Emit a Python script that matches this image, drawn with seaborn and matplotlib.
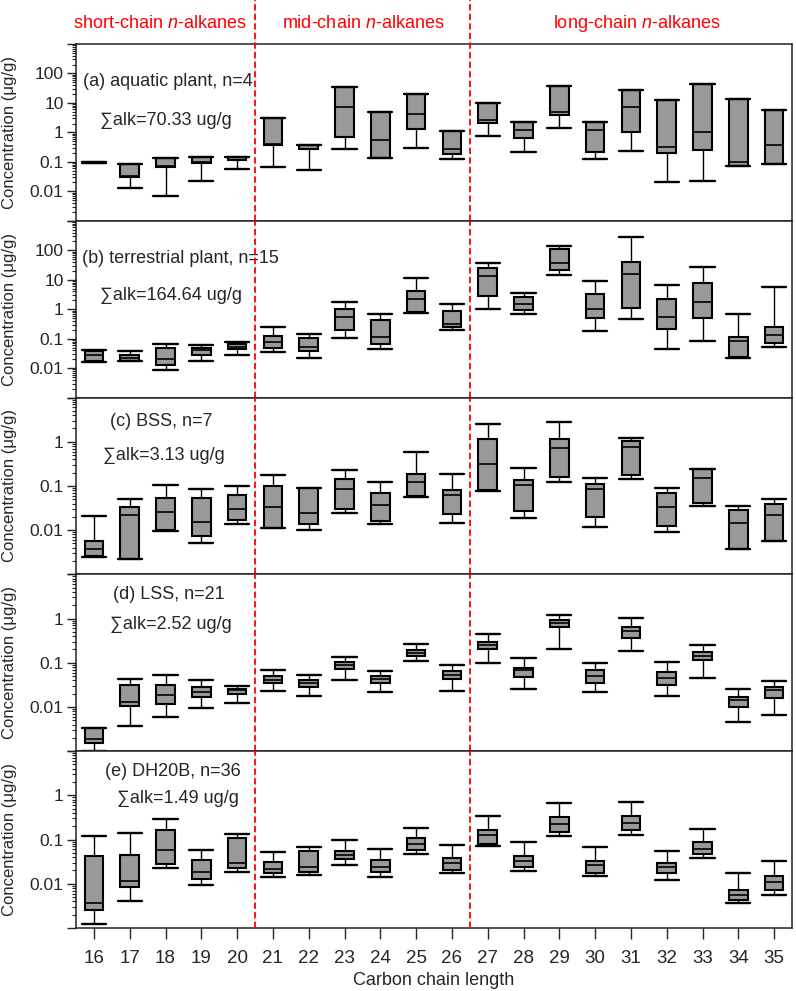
import numpy as np
import pandas as pd
import seaborn as sns
import matplotlib.pyplot as plt
from matplotlib.ticker import LogLocator, FuncFormatter

carbons = [str(c) for c in range(16, 36)]

# (a) aquatic plant
a_lo  = [0.092, 0.0129, 0.0072, 0.0225, 0.059, 0.066, 0.055, 0.27, 0.14, 0.30, 0.126, 0.73, 0.22, 1.37, 0.126, 0.237, 0.020, 0.022, 0.071, 0.083]
a_q1  = [0.094, 0.031, 0.069, 0.095, 0.117, 0.38, 0.27, 0.71, 0.14, 1.3, 0.187, 2.14, 0.63, 4.0, 0.215, 1.0, 0.20, 0.257, 0.071, 0.083]
a_med = [0.096, 0.032, 0.071, 0.098, 0.12, 0.39, 0.28, 7.3, 0.56, 4.3, 0.277, 2.57, 1.17, 5.1, 1.17, 7.5, 0.33, 1.0, 0.102, 0.37]
a_q3  = [0.098, 0.087, 0.138, 0.148, 0.145, 3.1, 0.38, 36, 4.8, 20.3, 1.14, 10.3, 2.2, 37, 2.2, 27, 12.9, 43, 13.3, 5.6]
a_hi  = [0.100, 0.087, 0.138, 0.148, 0.145, 3.1, 0.38, 36, 4.8, 20.3, 1.14, 10.3, 2.2, 37, 2.2, 27, 12.9, 43, 13.3, 5.6]

# (b) terrestrial plant
b_lo  = [0.016, 0.017, 0.0085, 0.018, 0.0285, 0.034, 0.022, 0.105, 0.046, 0.75, 0.19, 1.02, 0.67, 14, 0.18, 0.47, 0.045, 0.083, 0.0225, 0.053]
b_q1  = [0.018, 0.018, 0.0126, 0.028, 0.045, 0.048, 0.037, 0.20, 0.066, 0.79, 0.245, 2.7, 0.93, 22, 0.52, 1.07, 0.21, 0.52, 0.023, 0.069]
b_med = [0.027, 0.022, 0.020, 0.040, 0.052, 0.078, 0.051, 0.56, 0.117, 2.3, 0.316, 13.7, 1.48, 36, 0.98, 15.6, 0.55, 1.82, 0.086, 0.13]
b_q3  = [0.038, 0.028, 0.047, 0.049, 0.066, 0.123, 0.105, 1.05, 0.42, 4.2, 0.85, 25.5, 2.57, 111, 3.2, 39, 2.2, 7.5, 0.114, 0.245]
b_hi  = [0.042, 0.037, 0.064, 0.060, 0.075, 0.245, 0.14, 1.74, 0.71, 11.5, 1.45, 38, 3.6, 144, 8.8, 277, 6.4, 26, 0.71, 5.6]

# (c) BSS
c_lo  = [0.0025, 0.0022, 0.0098, 0.005, 0.0139, 0.0115, 0.0102, 0.0245, 0.0137, 0.056, 0.0147, 0.076, 0.019, 0.123, 0.0117, 0.142, 0.0093, 0.0357, 0.0037, 0.0057]
c_q1  = [0.0026, 0.0022, 0.0102, 0.0073, 0.017, 0.0115, 0.0135, 0.0305, 0.0163, 0.058, 0.0235, 0.083, 0.0274, 0.16, 0.0198, 0.178, 0.0125, 0.041, 0.0038, 0.0057]
c_med = [0.0038, 0.022, 0.026, 0.0155, 0.030, 0.034, 0.025, 0.087, 0.038, 0.123, 0.063, 0.316, 0.107, 0.72, 0.087, 0.76, 0.0328, 0.155, 0.0145, 0.0215]
c_q3  = [0.0058, 0.033, 0.054, 0.053, 0.063, 0.102, 0.089, 0.142, 0.069, 0.19, 0.080, 1.17, 0.139, 1.13, 0.111, 1.05, 0.068, 0.24, 0.029, 0.0396]
c_hi  = [0.0204, 0.050, 0.105, 0.084, 0.098, 0.18, 0.089, 0.227, 0.123, 0.59, 0.187, 2.48, 0.252, 2.8, 0.149, 1.19, 0.090, 0.24, 0.036, 0.050]

# (d) LSS
d_lo  = [0.001, 0.0038, 0.0059, 0.0093, 0.0123, 0.0225, 0.018, 0.040, 0.0216, 0.107, 0.0226, 0.097, 0.026, 0.20, 0.0215, 0.183, 0.018, 0.046, 0.0046, 0.0067]
d_q1  = [0.0015, 0.0107, 0.0117, 0.017, 0.020, 0.034, 0.029, 0.072, 0.034, 0.144, 0.043, 0.203, 0.047, 0.64, 0.035, 0.36, 0.031, 0.117, 0.0098, 0.016]
d_med = [0.0019, 0.0129, 0.0186, 0.0215, 0.024, 0.041, 0.035, 0.087, 0.042, 0.168, 0.053, 0.25, 0.067, 0.81, 0.050, 0.53, 0.045, 0.146, 0.0142, 0.024]
d_q3  = [0.0033, 0.031, 0.032, 0.029, 0.026, 0.050, 0.041, 0.103, 0.051, 0.196, 0.065, 0.30, 0.078, 0.95, 0.069, 0.63, 0.063, 0.177, 0.017, 0.029]
d_hi  = [0.0034, 0.042, 0.053, 0.041, 0.030, 0.069, 0.052, 0.136, 0.066, 0.26, 0.087, 0.45, 0.125, 1.23, 0.097, 1.02, 0.102, 0.25, 0.026, 0.038]

# (e) DH20B
e_lo  = [0.0012, 0.0041, 0.0227, 0.0093, 0.0184, 0.0145, 0.0157, 0.027, 0.0139, 0.048, 0.0178, 0.073, 0.0199, 0.123, 0.0149, 0.130, 0.012, 0.038, 0.0037, 0.0057]
e_q1  = [0.0026, 0.0083, 0.028, 0.013, 0.0226, 0.0178, 0.0184, 0.0357, 0.0184, 0.058, 0.021, 0.081, 0.024, 0.152, 0.0178, 0.166, 0.0178, 0.047, 0.0044, 0.0074]
e_med = [0.0037, 0.0115, 0.057, 0.018, 0.030, 0.022, 0.0236, 0.0457, 0.0245, 0.080, 0.0295, 0.125, 0.0333, 0.22, 0.026, 0.24, 0.0236, 0.062, 0.0056, 0.011]
e_q3  = [0.042, 0.045, 0.163, 0.034, 0.107, 0.0316, 0.056, 0.056, 0.034, 0.109, 0.039, 0.168, 0.0426, 0.316, 0.033, 0.333, 0.0295, 0.087, 0.0073, 0.0152]
e_hi  = [0.121, 0.144, 0.29, 0.059, 0.134, 0.0525, 0.068, 0.098, 0.0615, 0.184, 0.077, 0.34, 0.087, 0.66, 0.067, 0.72, 0.055, 0.175, 0.0172, 0.0327]

panels = [
    ("(a) aquatic plant, n=4", "\u2211alk=70.33 ug/g", (a_lo, a_q1, a_med, a_q3, a_hi)),
    ("(b) terrestrial plant, n=15", "\u2211alk=164.64 ug/g", (b_lo, b_q1, b_med, b_q3, b_hi)),
    ("(c) BSS, n=7", "\u2211alk=3.13 ug/g", (c_lo, c_q1, c_med, c_q3, c_hi)),
    ("(d) LSS, n=21", "\u2211alk=2.52 ug/g", (d_lo, d_q1, d_med, d_q3, d_hi)),
    ("(e) DH20B, n=36", "\u2211alk=1.49 ug/g", (e_lo, e_q1, e_med, e_q3, e_hi)),
]
ylims = [(1e-3, 1e3), (1e-3, 1e3), (1e-3, 10), (1e-3, 10), (1e-3, 10)]
shown = [[100, 10, 1, 0.1, 0.01]] * 2 + [[1, 0.1, 0.01]] * 3
title_pos = [(0.01, 0.786, 0.0335, 0.568), (0.009, 0.787, 0.0335, 0.58),
             (0.048, 0.865, 0.037, 0.672), (0.052, 0.885, 0.048, 0.714),
             (0.04, 0.886, 0.057, 0.73)]

sns.set_theme(style="ticks")
plt.rcParams['font.family'] = ['Liberation Sans', 'DejaVu Sans']
plt.rcParams['mathtext.fontset'] = 'custom'
plt.rcParams['mathtext.rm'] = 'Liberation Sans'
plt.rcParams['mathtext.it'] = 'Liberation Sans:italic'

fig, axes = plt.subplots(5, 1, figsize=(7.96, 9.91), dpi=100, sharex=True)
fig.subplots_adjust(left=0.0955, right=0.995, top=0.9556, bottom=0.0636, hspace=0)


def fmt(v):
    return "%g" % v


for i, (ax, (lab, tot, stats)) in enumerate(zip(axes, panels)):
    rows = []
    for j, c in enumerate(carbons):
        for s in stats:
            rows.append((c, s[j]))
    df = pd.DataFrame(rows, columns=["carbon", "conc"])
    sns.boxplot(data=df, x="carbon", y="conc", order=carbons, ax=ax,
                whis=(0, 100), width=0.52, color="#999999", saturation=1,
                linecolor="black", linewidth=1.5, fliersize=0, log_scale=True,
                capwidths=0.68,
                whiskerprops=dict(linewidth=1.0),
                capprops=dict(linewidth=1.7),
                medianprops=dict(linewidth=1.2))
    ax.set_ylim(*ylims[i])
    ax.yaxis.set_major_locator(LogLocator(base=10, numticks=20))
    ax.yaxis.set_minor_locator(LogLocator(base=10, subs=np.arange(2, 10) * 1.0, numticks=100))
    keep = shown[i]
    ax.yaxis.set_major_formatter(FuncFormatter(
        lambda v, p, keep=keep: fmt(v) if any(abs(v / k - 1) < 1e-6 for k in keep) else ""))
    ax.yaxis.set_minor_formatter(FuncFormatter(lambda v, p: ""))
    ax.tick_params(axis='y', which='major', direction='out', length=6.5, width=1.0,
                   labelsize=12.5, pad=2.5, color='#222222')
    ax.tick_params(axis='y', which='minor', direction='out', length=3, width=0.8, color='#222222')
    ax.set_ylabel("Concentration (\u03bcg/g)", fontsize=12)
    ax.yaxis.set_label_coords(-0.083, 0.5)
    for sp in ax.spines.values():
        sp.set_linewidth(1.1)
        sp.set_color('#222222')
    tx, ty, sx, sy = title_pos[i]
    ax.text(tx, ty, lab, transform=ax.transAxes, fontsize=13, va='center', ha='left')
    ax.text(sx, sy, tot, transform=ax.transAxes, fontsize=13, va='center', ha='left')
    top = 1.25 if i == 0 else 1.0
    for xv in (4.5, 10.5):
        ax.axvline(xv, ymin=0, ymax=top, color='red', lw=1.3,
                   linestyle=(0, (3.5, 1.8)), clip_on=False, zorder=5)
    if i < 4:
        ax.tick_params(axis='x', bottom=False, labelbottom=False)
        ax.set_xlabel("")

axes[-1].tick_params(axis='x', direction='out', length=8, width=1.0, labelsize=13.5, pad=7.5)
axes[-1].set_xlabel("Carbon chain length", fontsize=13, labelpad=4)

fig.text(0.201, 0.976, "short-chain $n$-alkanes", color='red', fontsize=13, ha='center', va='center')
fig.text(0.456, 0.976, "mid-chain $n$-alkanes", color='red', fontsize=13, ha='center', va='center')
fig.text(0.80, 0.976, "long-chain $n$-alkanes", color='red', fontsize=13, ha='center', va='center')

fig.savefig("out.png", dpi=100)
